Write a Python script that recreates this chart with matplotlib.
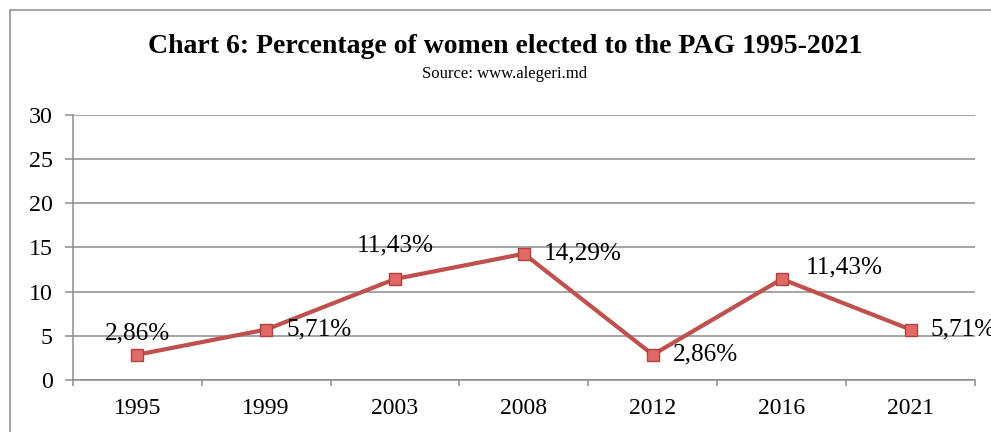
import numpy as np
import matplotlib.pyplot as plt
from matplotlib.patches import Rectangle

years = ['1995', '1999', '2003', '2008', '2012', '2016', '2021']
pct = [2.86, 5.71, 11.43, 14.29, 2.86, 11.43, 5.71]
labels = ['2,86%', '5,71%', '11,43%', '14,29%', '2,86%', '11,43%', '5,71%']

plt.rcParams['font.family'] = ['Liberation Serif', 'DejaVu Serif']

grey = '#8C8C8C'
red = '#C0504D'

# pixel offsets of each value label from its marker, plus alignment
label_off = [(0, 21, 'center'), (20, 0, 'left'), (0, 34, 'center'),
             (20, 0, 'left'), (20, 0, 'left'), (24, 12, 'left'),
             (20, 0, 'left')]

fig = plt.figure(figsize=(9.91, 4.32), dpi=100)
ax = fig.add_axes([0.0734, 0.1204, 0.9106, 0.6134])

x = np.arange(len(years))
ax.plot(x, pct, color=red, lw=3.0, zorder=3)
ax.plot(x, pct, ls='none', marker='s', ms=8, mfc='#E06A66', mec='#B0413E',
        mew=1.0, zorder=4)

for xi, yi, txt, (dx, dy, ha) in zip(x, pct, labels, label_off):
    ax.annotate(txt, (xi, yi), xytext=(dx, dy), textcoords='offset pixels',
                ha=ha, va='center', fontsize=18.2, color='black',
                annotation_clip=False, clip_on=False)

ax.set_xlim(-0.5, 6.5)
ax.set_ylim(0, 30)
ax.set_yticks(np.arange(0, 31, 5))
ax.set_xticks(x)
ax.set_xticklabels(years)
ax.set_xticks(np.arange(-0.5, 7.0, 1.0), minor=True)

ax.grid(axis='y', color=grey, lw=1.1)
ax.set_axisbelow(True)
for s in ['top', 'right']:
    ax.spines[s].set_visible(False)
for s in ['left', 'bottom']:
    ax.spines[s].set_color(grey)
    ax.spines[s].set_linewidth(1.1)

ax.tick_params(axis='y', length=5.5, width=1.1, color=grey, pad=9,
               labelsize=17.3)
ax.tick_params(axis='x', which='major', length=0, pad=13, labelsize=17.1)
ax.tick_params(axis='x', which='minor', length=4, width=1.1, color=grey)

fig.text(0.5096, 0.892, 'Chart 6: Percentage of women elected to the PAG 1995-2021',
         ha='center', va='center', fontsize=20, fontweight='bold')
fig.text(0.5096, 0.829, 'Source: www.alegeri.md', ha='center', va='center',
         fontsize=12)

# outer chart frame, running off the right and bottom edges
fig.patches.append(Rectangle((10 / 991, -0.2), 1.2, 1.2 - 10 / 432,
                             transform=fig.transFigure, fill=False,
                             edgecolor='#8A8A8A', lw=1.1, clip_on=False))

fig.savefig('out.png', dpi=100)
